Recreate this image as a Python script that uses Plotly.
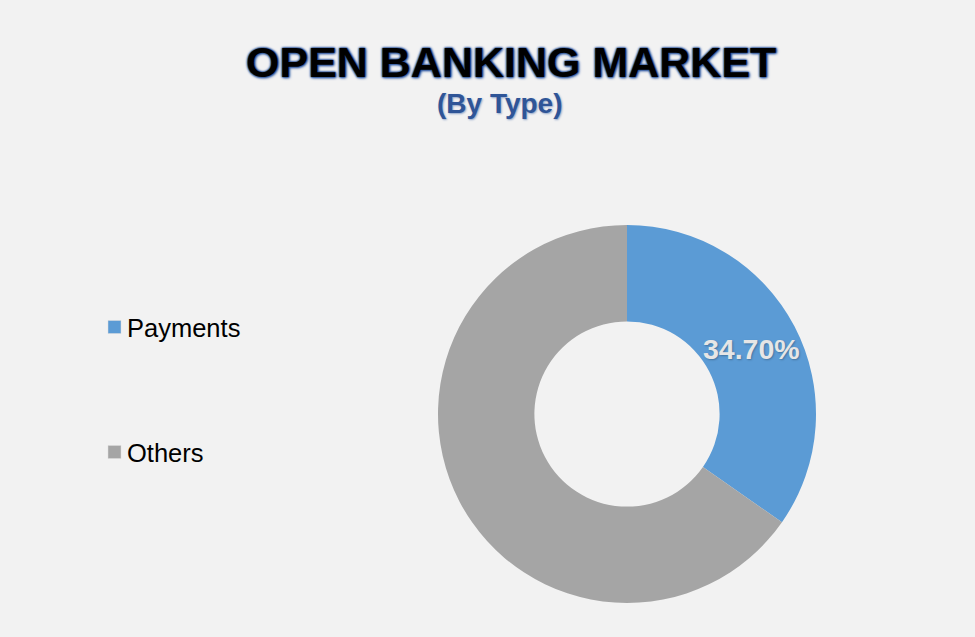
import math
import plotly.graph_objects as go

categories = ["Payments", "Others"]
values = [34.7, 65.3]
slice_text = ["34.70%", ""]
colors = ["#5B9BD5", "#A5A5A5"]

W, H = 975, 637
BG = "#F2F2F2"
HOLE = 0.49
dom_x = [438 / W, 816 / W]
dom_y = [1 - 603 / H, 1 - 225 / H]

fig = go.Figure()
fig.add_trace(go.Pie(
    labels=categories,
    values=values,
    textinfo="none",
    marker=dict(colors=colors, line=dict(width=0)),
    hole=HOLE,
    sort=False,
    direction="clockwise",
    rotation=0,
    showlegend=False,
    hoverinfo="label+percent",
    domain=dict(x=dom_x, y=dom_y),
))

# Slice label placed at the slice's mid-angle, mid-radius (derived from the values)
cx_px = (dom_x[0] + dom_x[1]) / 2 * W
cy_px = (dom_y[0] + dom_y[1]) / 2 * H
R_px = min((dom_x[1] - dom_x[0]) * W, (dom_y[1] - dom_y[0]) * H) / 2
total = sum(values)
cum = 0.0
for v, t in zip(values, slice_text):
    mid = (cum + v / 2) / total * 2 * math.pi
    cum += v
    if not t:
        continue
    rm = (HOLE + 1) / 2 * R_px
    px = cx_px + rm * math.sin(mid)
    py = cy_px + rm * math.cos(mid)
    fig.add_annotation(
        text=t, x=px / W, y=py / H, xref="paper", yref="paper",
        xanchor="center", yanchor="middle", showarrow=False,
        font=dict(family="Liberation Sans, Arial", size=28.5, color="#E6E6E6", weight="bold",
                  shadow="1px 1px 2px rgba(0,0,0,0.25)"),
    )

# Title and subtitle
fig.add_annotation(
    text="OPEN BANKING MARKET", x=511 / W, y=1 - 62 / H, xref="paper", yref="paper",
    xanchor="center", yanchor="middle", showarrow=False,
    font=dict(family="Liberation Sans, Arial", size=43, color="#000000", weight="bold",
              shadow="0 0 1px #2F5597, 0 0 2px #2F5597, 0 0 2px #2F5597, 0 0 3px #3A66AD, 1px 1px 3px #3A66AD"),
)
fig.add_annotation(
    text="(By Type)", x=500 / W, y=1 - 103 / H, xref="paper", yref="paper",
    xanchor="center", yanchor="middle", showarrow=False,
    font=dict(family="Liberation Sans, Arial", size=28, color="#2F5597", weight="bold",
              shadow="1px 1px 2px #8FA4C8"),
)

# Custom legend
legend_y = [327, 452]
for name, col, yy in zip(categories, colors, legend_y):
    fig.add_shape(type="rect", xref="paper", yref="paper",
                  x0=108 / W, x1=121 / W, y0=1 - (yy + 6.5) / H, y1=1 - (yy - 6.5) / H,
                  fillcolor=col, line=dict(width=0.5, color="#DDDDDD"))
    fig.add_annotation(
        text=name, x=125 / W, y=1 - (yy + 1) / H, xref="paper", yref="paper",
        xanchor="left", yanchor="middle", showarrow=False,
        font=dict(family="Liberation Sans, Arial", size=25.5, color="#000000"),
    )

fig.update_layout(
    width=W, height=H,
    margin=dict(l=0, r=0, t=0, b=0),
    paper_bgcolor=BG, plot_bgcolor=BG,
)

fig.write_html("out.html")
